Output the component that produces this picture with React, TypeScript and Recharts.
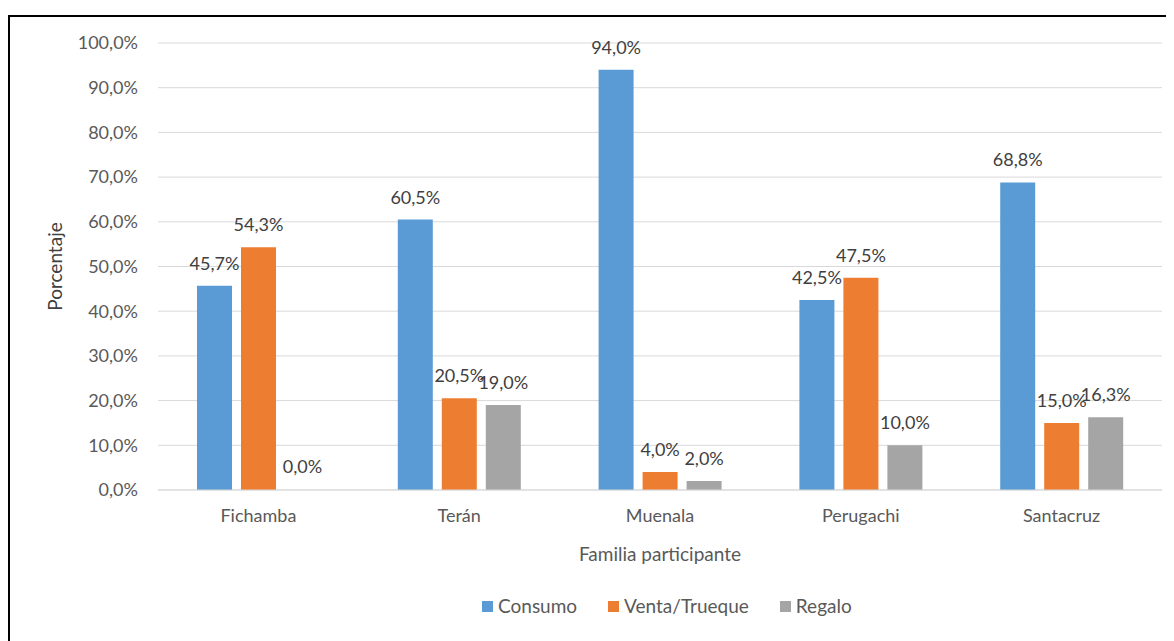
import React from 'react';
import {
  BarChart,
  Bar,
  Cell,
  XAxis,
  YAxis,
  CartesianGrid,
  LabelList,
} from 'recharts';

const familias = ['Fichamba', 'Terán', 'Muenala', 'Perugachi', 'Santacruz'];
const consumo = [45.7, 60.5, 94.0, 42.5, 68.8];
const ventaTrueque = [54.3, 20.5, 4.0, 47.5, 15.0];
const regalo = [0.0, 19.0, 2.0, 10.0, 16.3];
const yTicks = [0, 10, 20, 30, 40, 50, 60, 70, 80, 90, 100];

const series = [
  { key: 'consumo', name: 'Consumo', color: '#5B9BD5' },
  { key: 'venta', name: 'Venta/Trueque', color: '#ED7D31' },
  { key: 'regalo', name: 'Regalo', color: '#A5A5A5' },
];

const data = familias.map((name, i) => ({
  name,
  consumo: consumo[i],
  venta: ventaTrueque[i],
  regalo: regalo[i],
}));

const FONT = 'Lato, "Open Sans", sans-serif';
const pct = (v: number) => `${Number(v).toFixed(1).replace('.', ',')}%`;

export default function App() {
  return (
    <div
      style={{
        position: 'relative',
        width: 1166,
        height: 633,
        overflow: 'hidden',
        fontFamily: FONT,
        background: '#fff',
      }}
    >
      {/* chart frame */}
      <div
        style={{
          position: 'absolute',
          left: 0,
          top: 7,
          width: 1200,
          height: 700,
          border: '2px solid #000',
          boxSizing: 'border-box',
        }}
      />
      <div style={{ position: 'absolute', left: 0, top: 0 }}>
        <BarChart
          width={1166}
          height={633}
          data={data}
          margin={{ top: 35, right: 12, left: 0, bottom: 76 }}
          barSize={35}
          barGap={9}
        >
          <CartesianGrid vertical={false} stroke="#D9D9D9" />
          <XAxis
            dataKey="name"
            axisLine={{ stroke: '#D9D9D9' }}
            tickLine={false}
            tickSize={0}
            tickMargin={19}
            height={75}
            tick={{ fill: '#595959', fontSize: 18, fontFamily: FONT }}
            label={{
              value: 'Familia participante',
              position: 'insideBottom',
              offset: 4,
              fill: '#595959',
              fontSize: 19,
              fontFamily: FONT,
            }}
          />
          <YAxis
            domain={[0, 100]}
            ticks={yTicks}
            tickFormatter={pct}
            width={150}
            axisLine={false}
            tickLine={false}
            tickSize={0}
            tickMargin={20}
            tick={{ fill: '#595959', fontSize: 18, fontFamily: FONT }}
            label={{
              value: 'Porcentaje',
              angle: -90,
              position: 'center',
              dx: -28,
              fill: '#404040',
              fontSize: 19,
              fontFamily: FONT,
            }}
          />
          {series.map((s) => (
            <Bar
              key={s.key}
              dataKey={s.key}
              name={s.name}
              fill={s.color}
              minPointSize={1}
              isAnimationActive={false}
            >
              {data.map((d: any, i) => (
                <Cell key={i} fill={d[s.key] === 0 ? 'transparent' : s.color} />
              ))}
              <LabelList
                dataKey={s.key}
                position="top"
                offset={16}
                formatter={(v: any) => pct(v)}
                style={{ fill: '#404040', fontSize: 18, fontFamily: FONT }}
              />
            </Bar>
          ))}
        </BarChart>
      </div>
      {/* legend */}
      <div
        style={{
          position: 'absolute',
          left: 474,
          top: 588,
          display: 'flex',
          alignItems: 'center',
          fontSize: 19,
          lineHeight: '20px',
          color: '#595959',
        }}
      >
        {series.map((s) => (
          <div key={s.key} style={{ display: 'flex', alignItems: 'center', marginRight: 31 }}>
            <span
              style={{
                display: 'inline-block',
                width: 11,
                height: 11,
                background: s.color,
                marginRight: 5,
              }}
            />
            <span>{s.name}</span>
          </div>
        ))}
      </div>
    </div>
  );
}
